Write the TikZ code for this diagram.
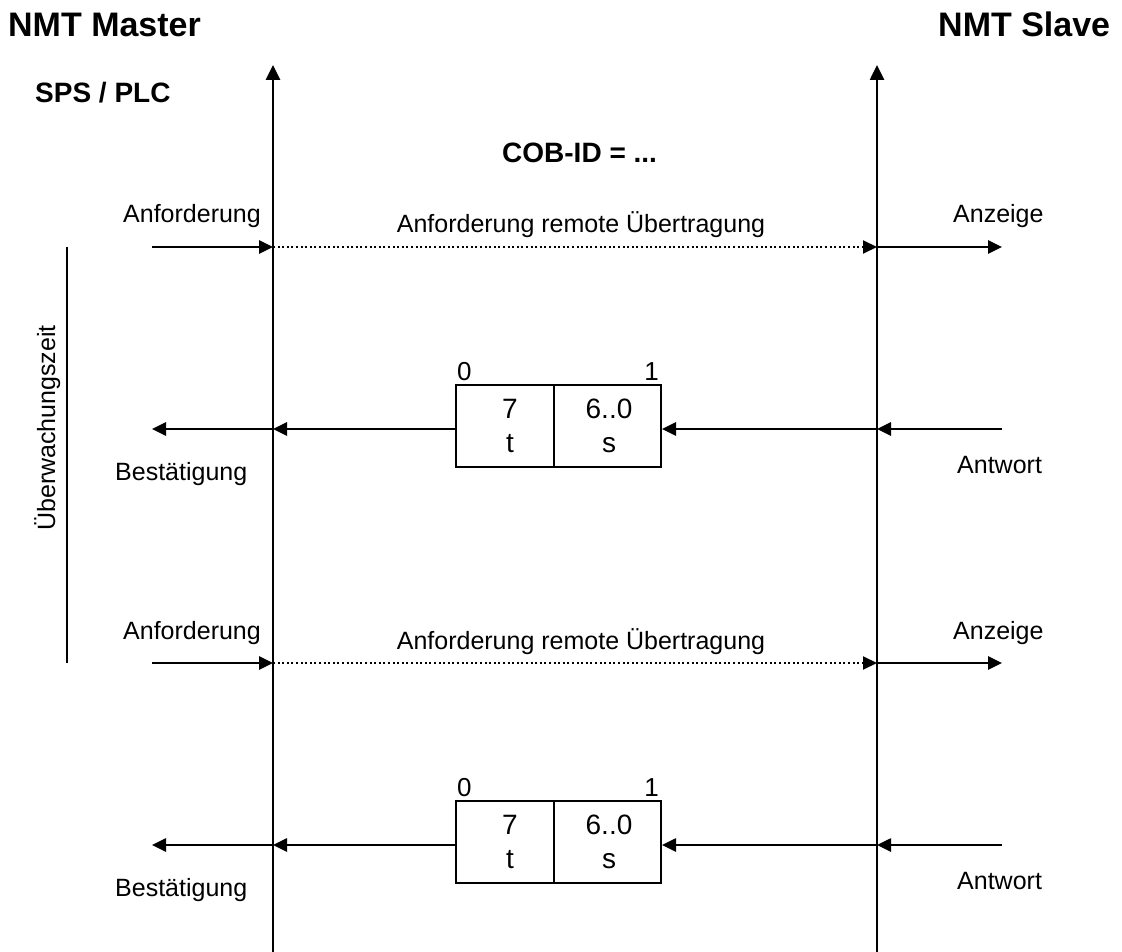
\documentclass[tikz,border=0pt]{standalone}
\usepackage{fontspec}
\setmainfont{Liberation Sans}
\usetikzlibrary{arrows.meta}
\tikzset{
  axis/.style={line width=2.6pt, -{Triangle[length=15pt,width=14pt]}},
  msg/.style={line width=2.6pt, -{Triangle[length=14pt,width=13pt]}},
  dotmsg/.style={line width=2pt, dash pattern=on 2pt off 2.6pt, -{Triangle[length=14pt,width=13pt]}},
  title/.style={font=\fontsize{34}{40}\selectfont\bfseries, inner sep=0pt},
  head/.style={font=\fontsize{28}{34}\selectfont\bfseries, inner sep=0pt},
  lab/.style={font=\fontsize{25}{30}\selectfont, inner sep=0pt},
  boxtxt/.style={font=\fontsize{28}{34}\selectfont, inner sep=0pt},
  bittxt/.style={font=\fontsize{26}{31}\selectfont, inner sep=0pt},
  frame/.style={draw, line width=2pt, minimum width=#1, minimum height=82pt, inner sep=0pt},
}
\begin{document}
\begin{tikzpicture}[x=1pt, y=-1pt]
\useasboundingbox (0,0) rectangle (1122,952);

% headings
\node[title, anchor=base west] (master) at (8,37) {NMT Master};
\node[title, anchor=base west] (slave) at (938,37) {NMT Slave};
\node[head, anchor=base west] (plc) at (35,103) {SPS / PLC};
\node[head, anchor=base west] (cob) at (502,163) {COB-ID = ...};

% axes
\coordinate (mTop) at (273,65);
\coordinate (mBot) at (273,952);
\coordinate (sTop) at (877,65);
\coordinate (sBot) at (877,952);
\draw[axis] (mBot) -- (mTop);
\draw[axis] (sBot) -- (sTop);

% monitoring time
\coordinate (wTop) at (67,247);
\coordinate (wBot) at (67,663);
\draw[line width=2pt] (wTop) -- (wBot);
\node[lab, rotate=90, anchor=base west] (wz) at (55,531) {Überwachungszeit};

% ---------- cycle 1 ----------
\coordinate (inL1) at (152,247);
\coordinate (m1) at (273,247);
\coordinate (s1) at (877,247);
\coordinate (outR1) at (1002,247);
\draw[msg] (inL1) -- (m1);
\draw[dotmsg] (m1) -- (s1);
\draw[msg] (s1) -- (outR1);
\node[lab, anchor=base west] (anf1) at (123,223) {Anforderung};
\node[lab, anchor=base] (rtr1) at (581,233) {Anforderung remote Übertragung};
\node[lab, anchor=base west] (anz1) at (953,223) {Anzeige};

\node[frame=98pt] (bl1) at (505,426) {};
\node[frame=107pt] (br1) at (607.5,426) {};
\node[bittxt, anchor=base west] (b01) at (457,380) {0};
\node[bittxt, anchor=base east] (b11) at (659,380) {1};
\node[boxtxt, anchor=base] (t71) at (510,418) {7};
\node[boxtxt, anchor=base] (tt1) at (510,452) {t};
\node[boxtxt, anchor=base] (t61) at (609,418) {6..0};
\node[boxtxt, anchor=base] (ts1) at (609,452) {s};

\coordinate (inR2) at (1002,429);
\coordinate (s2) at (877,429);
\coordinate (m2) at (273,429);
\coordinate (outL2) at (152,429);
\draw[msg] (inR2) -- (s2);
\draw[msg] (s2) -- (br1.east |- s2);
\draw[msg] (bl1.west |- m2) -- (m2);
\draw[msg] (m2) -- (outL2);
\node[lab, anchor=base west] (best1) at (115,480) {Bestätigung};
\node[lab, anchor=base west] (antw1) at (957,473) {Antwort};

% ---------- cycle 2 ----------
\coordinate (inL3) at (152,663);
\coordinate (m3) at (273,663);
\coordinate (s3) at (877,663);
\coordinate (outR3) at (1002,663);
\draw[msg] (inL3) -- (m3);
\draw[dotmsg] (m3) -- (s3);
\draw[msg] (s3) -- (outR3);
\node[lab, anchor=base west] (anf2) at (123,639) {Anforderung};
\node[lab, anchor=base] (rtr2) at (581,649) {Anforderung remote Übertragung};
\node[lab, anchor=base west] (anz2) at (953,639) {Anzeige};

\node[frame=98pt] (bl2) at (505,842) {};
\node[frame=107pt] (br2) at (607.5,842) {};
\node[bittxt, anchor=base west] (b02) at (457,796) {0};
\node[bittxt, anchor=base east] (b12) at (659,796) {1};
\node[boxtxt, anchor=base] (t72) at (510,834) {7};
\node[boxtxt, anchor=base] (tt2) at (510,868) {t};
\node[boxtxt, anchor=base] (t62) at (609,834) {6..0};
\node[boxtxt, anchor=base] (ts2) at (609,868) {s};

\coordinate (inR4) at (1002,845);
\coordinate (s4) at (877,845);
\coordinate (m4) at (273,845);
\coordinate (outL4) at (152,845);
\draw[msg] (inR4) -- (s4);
\draw[msg] (s4) -- (br2.east |- s4);
\draw[msg] (bl2.west |- m4) -- (m4);
\draw[msg] (m4) -- (outL4);
\node[lab, anchor=base west] (best2) at (115,896) {Bestätigung};
\node[lab, anchor=base west] (antw2) at (957,889) {Antwort};
\end{tikzpicture}
\end{document}
